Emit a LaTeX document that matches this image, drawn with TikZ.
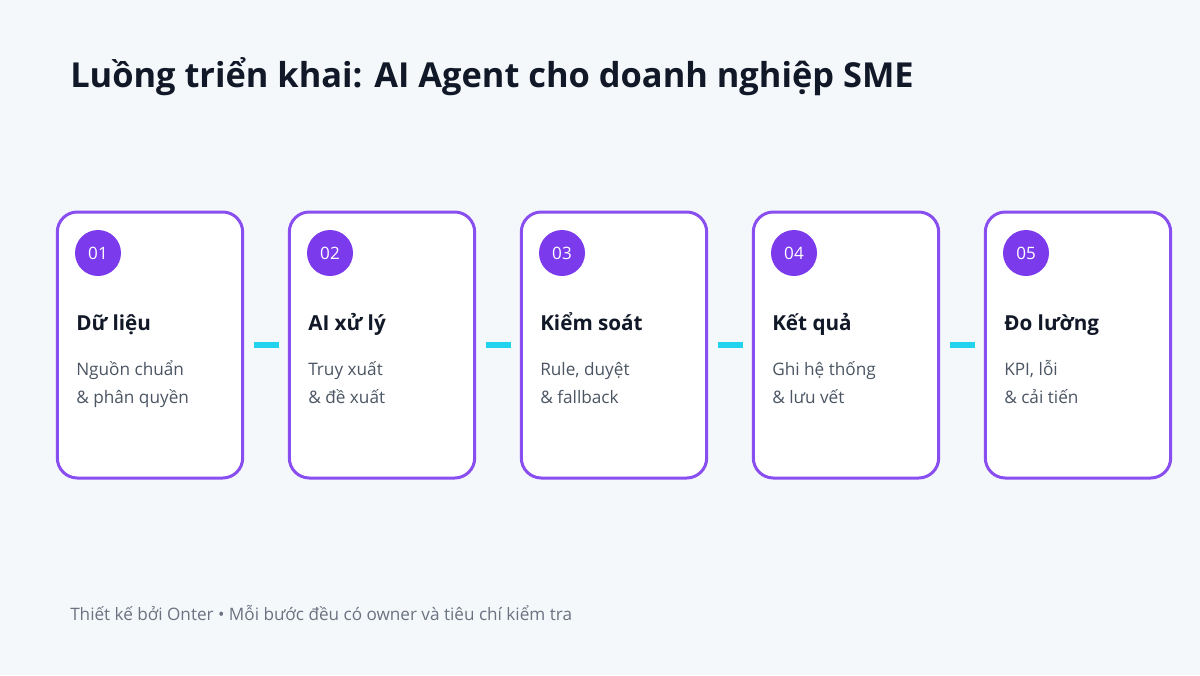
\documentclass[tikz,border=0pt]{standalone}
\usepackage{fontspec}
\setmainfont{Open Sans}
\definecolor{bgpage}{HTML}{F5F8FB}
\definecolor{violet}{HTML}{7C3AED}
\definecolor{cyanbar}{HTML}{22D3EE}
\definecolor{ink}{HTML}{111827}
\definecolor{slate}{HTML}{4B5563}
\definecolor{muted}{HTML}{6B7280}
\tikzset{
  card/.style={draw=violet!90!white, line width=2.25pt, fill=white, rounded corners=15pt,
    minimum width=139pt, minimum height=199.5pt, inner sep=0pt},
  badge/.style={circle, fill=violet, text=white, minimum size=34.5pt, inner sep=0pt,
    font=\fontsize{12.8}{15}\selectfont},
  heading/.style={anchor=base west, inner sep=0pt, text=ink,
    font=\bfseries\fontsize{15.5}{19}\selectfont},
  detail/.style={anchor=base west, inner sep=0pt, text=slate,
    font=\fontsize{12.9}{16}\selectfont},
  link/.style={draw=cyanbar, line width=4.5pt, shorten <=7pt, shorten >=7pt}
}
\begin{document}
\begin{tikzpicture}[x=0.75pt, y=-0.75pt]
  \fill[bgpage] (0,0) rectangle (1200,675);
  \useasboundingbox (0,0) rectangle (1200,675);
  \node[anchor=base west, inner sep=0pt, text=ink, font=\bfseries\fontsize{25.8}{31}\selectfont]
    (title) at (70,87) {Luồng triển khai: AI Agent cho doanh nghiệp SME};

  \node[card] (c1) at (150,345) {};
  \node[card] (c2) at (382,345) {};
  \node[card] (c3) at (614,345) {};
  \node[card] (c4) at (846,345) {};
  \node[card] (c5) at (1078,345) {};

  \node[badge] (b1) at (98,253) {01};
  \node[badge] (b2) at (330,253) {02};
  \node[badge] (b3) at (562,253) {03};
  \node[badge] (b4) at (794,253) {04};
  \node[badge] (b5) at (1026,253) {05};

  \node[heading] (h1) at (76,330) {Dữ liệu};
  \node[heading] (h2) at (308,330) {AI xử lý};
  \node[heading] (h3) at (540,330) {Kiểm soát};
  \node[heading] (h4) at (772,330) {Kết quả};
  \node[heading] (h5) at (1004,330) {Đo lường};

  \node[detail] (d1a) at (76,375) {Nguồn chuẩn};
  \node[detail] (d1b) at (76,403) {\& phân quyền};
  \node[detail] (d2a) at (308,375) {Truy xuất};
  \node[detail] (d2b) at (308,403) {\& đề xuất};
  \node[detail] (d3a) at (540,375) {Rule, duyệt};
  \node[detail] (d3b) at (540,403) {\& fallback};
  \node[detail] (d4a) at (772,375) {Ghi hệ thống};
  \node[detail] (d4b) at (772,403) {\& lưu vết};
  \node[detail] (d5a) at (1004,375) {KPI, lỗi};
  \node[detail] (d5b) at (1004,403) {\& cải tiến};

  \draw[link] (c1) -- (c2);
  \draw[link] (c2) -- (c3);
  \draw[link] (c3) -- (c4);
  \draw[link] (c4) -- (c5);

  \node[anchor=base west, inner sep=0pt, text=muted, font=\fontsize{12.85}{16}\selectfont]
    (footer) at (70,620) {Thiết kế bởi Onter • Mỗi bước đều có owner và tiêu chí kiểm tra};
\end{tikzpicture}
\end{document}
